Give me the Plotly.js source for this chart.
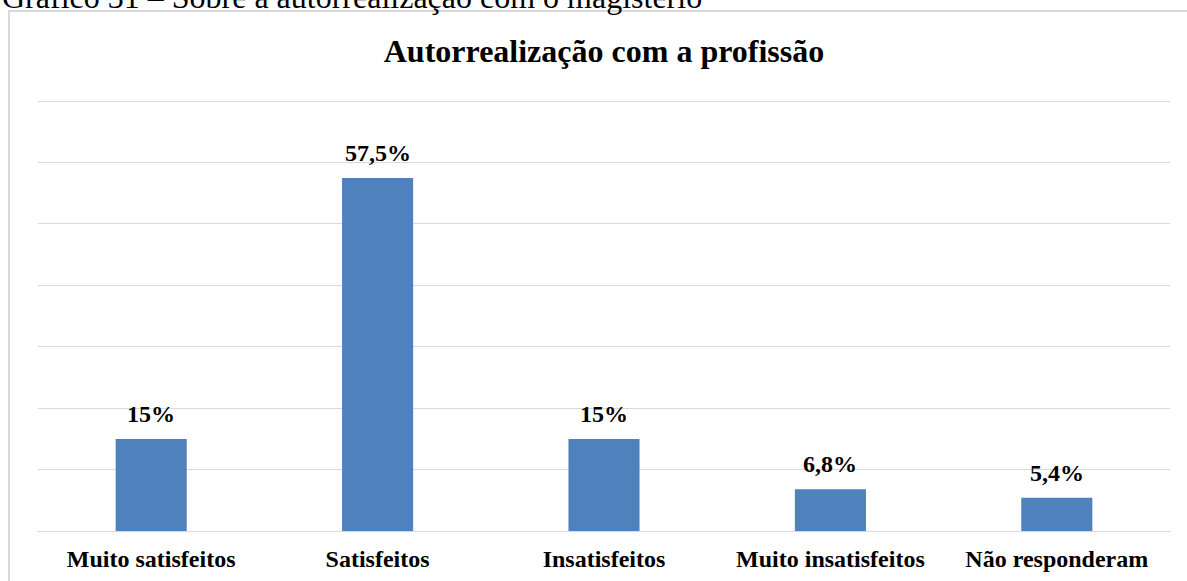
<!DOCTYPE html>
<html>
<head>
<meta charset="utf-8">
<script src="https://cdn.plot.ly/plotly-3.0.1.min.js"></script>
<style>html,body{margin:0;padding:0;background:#fff;overflow:hidden}#chart{width:1187px;height:581px}</style>
</head>
<body>
<div id="chart"></div>
<script>
const categories = ["Muito satisfeitos", "Satisfeitos", "Insatisfeitos", "Muito insatisfeitos", "Não responderam"];
const values = [15, 57.5, 15, 6.8, 5.4];
const valueLabels = ["15%", "57,5%", "15%", "6,8%", "5,4%"];
const gridValues = [10, 20, 30, 40, 50, 60, 70];
const titleText = "Autorrealização com a profissão";
const captionText = "Gráfico 31 – Sobre a autorrealização com o magistério";

const W = 1187, H = 581;
const L = 38, R = 1170, T = 95, B = 531;
const pw = R - L, ph = B - T;
const px = x => (x - L) / pw;
const py = y => (B - y) / ph;

const serif = "Liberation Serif, Times New Roman, serif";

const trace = {
  type: "bar",
  x: categories,
  y: values,
  width: 0.314,
  marker: {color: "#4f81bd"},
  hoverinfo: "skip"
};

const labelAnnotations = categories.map((c, i) => ({
  x: c, y: values[i], xref: "x", yref: "y",
  text: "<b>" + valueLabels[i] + "</b>",
  showarrow: false, xanchor: "center", yanchor: "bottom",
  yshift: 10,
  font: {family: serif, size: 24, color: "#000"}
}));

const layout = {
  width: W, height: H,
  margin: {l: L, r: W - R, t: T, b: H - B, pad: 0},
  paper_bgcolor: "#fff",
  plot_bgcolor: "#fff",
  showlegend: false,
  bargap: 0.686,
  title: {
    text: "<b>" + titleText + "</b>",
    font: {family: serif, size: 32, color: "#000"},
    x: 0.5, xanchor: "center", xref: "paper",
    y: 1 - 51 / H, yanchor: "middle", yref: "container"
  },
  xaxis: {
    type: "category",
    showgrid: false,
    showline: true, linecolor: "#d9d9d9", linewidth: 1,
    ticks: "",
    tickfont: {family: serif, size: 24, color: "#000", weight: "bold"},
    ticklabelstandoff: 6,
    fixedrange: true
  },
  yaxis: {
    range: [0, 71],
    tickvals: gridValues,
    showgrid: true, gridcolor: "#d9d9d9", gridwidth: 1,
    showticklabels: false,
    zeroline: false,
    ticks: "",
    fixedrange: true
  },
  shapes: [{
    type: "rect", xref: "paper", yref: "paper",
    x0: px(9), x1: px(1200), y0: py(11), y1: py(600),
    line: {color: "#d9d9d9", width: 2}, fillcolor: "rgba(0,0,0,0)", layer: "below"
  }],
  annotations: [{
    text: captionText,
    xref: "paper", yref: "paper",
    x: px(0), y: py(17), xanchor: "left", yanchor: "bottom",
    showarrow: false,
    font: {family: serif, size: 32, color: "#000"}
  }].concat(labelAnnotations)
};

Plotly.newPlot("chart", [trace], layout, {displayModeBar: false, staticPlot: true});
</script>
</body>
</html>
